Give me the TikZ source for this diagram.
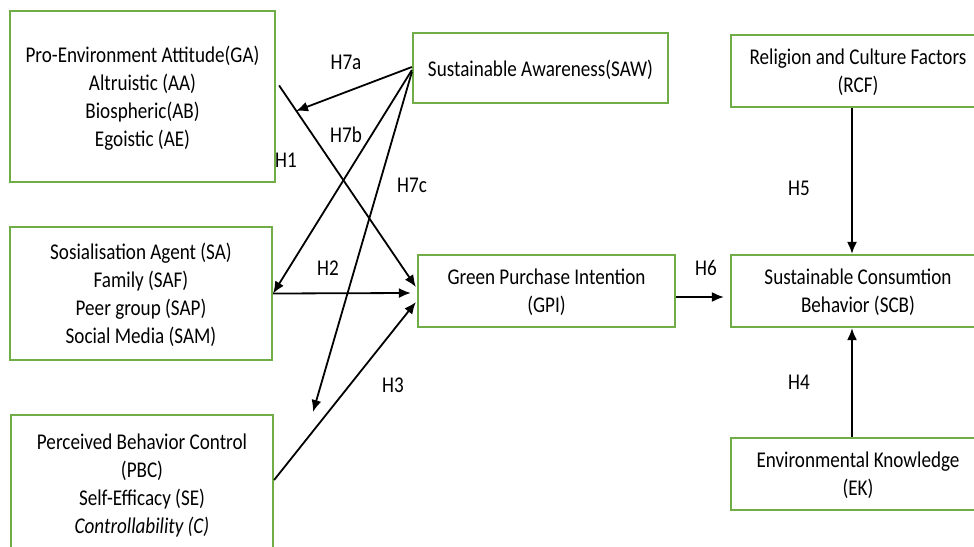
\documentclass[tikz,border=0pt]{standalone}
\usepackage{fontspec}
\setmainfont{Carlito}[FakeStretch=0.85]
\usetikzlibrary{arrows.meta}

\definecolor{boxgreen}{RGB}{112,173,71}

\tikzset{
  factor/.style={draw=boxgreen, line width=2.2pt, inner sep=0pt, align=center,
    font=\fontsize{22.5}{28}\selectfont, text depth=0pt},
  link/.style={-{Latex[length=12pt,width=10pt]}, line width=1.8pt},
  hyp/.style={font=\fontsize{22.5}{28}\selectfont, inner sep=0pt}
}

\begin{document}
\begin{tikzpicture}[x=1pt,y=-1pt]
  \useasboundingbox (0,0) rectangle (974,546);
  \node[factor, minimum width=265pt, minimum height=171pt] (GA) at (142.5,96.5)
    {Pro-Environment Attitude(GA)\\Altruistic (AA)\\Biospheric(AB)\\Egoistic (AE)};
  \node[factor, minimum width=262pt, minimum height=133pt] (SA) at (141,293.5)
    {Sosialisation Agent (SA)\\Family (SAF)\\Peer group (SAP)\\Social Media (SAM)};
  \node[factor, minimum width=262pt, minimum height=138pt] (PBC) at (142,484)
    {Perceived Behavior Control\\(PBC)\\Self-Efficacy (SE)\\\itshape Controllability (C)};
  \node[factor, minimum width=255pt, minimum height=70pt] (SAW) at (540.5,68)
    {Sustainable Awareness(SAW)};
  \node[factor, minimum width=257pt, minimum height=72pt] (GPI) at (546.5,291)
    {Green Purchase Intention\\(GPI)};
  \node[factor, minimum width=254pt, minimum height=72pt] (RCF) at (858,71)
    {Religion and Culture Factors\\(RCF)};
  \node[factor, minimum width=254pt, minimum height=72pt] (SCB) at (858,291)
    {Sustainable Consumtion\\Behavior (SCB)};
  \node[factor, minimum width=254pt, minimum height=72pt] (EK) at (858,474)
    {Environmental Knowledge\\(EK)};

  \coordinate (h7a) at (296,111);
  \coordinate (h7c) at (313,412);

  \draw[link] ([yshift=1pt]SAW.west) -- (h7a);
  \draw[link] ([yshift=-2pt]SAW.west) -- (SA.east);
  \draw[link] ([yshift=-4pt]SAW.west) -- (h7c);
  \draw[link] ([xshift=3pt,yshift=11pt]GA.east) -- ([xshift=-1pt,yshift=4pt]GPI.west);
  \draw[link] (SA.east) -- ([xshift=-6pt,yshift=-2pt]GPI.west);
  \draw[link] ([yshift=4pt]PBC.east) -- ([xshift=-1pt,yshift=-11pt]GPI.west);
  \draw[link] ([yshift=-6pt]GPI.east) -- ([xshift=-6pt,yshift=-6pt]SCB.west);
  \draw[link] ([xshift=-6pt]RCF.south) -- ([xshift=-6pt]SCB.north);
  \draw[link] ([xshift=-6pt]EK.north) -- ([xshift=-6pt]SCB.south);

  \node[hyp] (lH7a) at (346,62) {H7a};
  \node[hyp] (lH7b) at (346,135) {H7b};
  \node[hyp] (lH1) at (286,160) {H1};
  \node[hyp] (lH7c) at (412,185) {H7c};
  \node[hyp] (lH2) at (328,268) {H2};
  \node[hyp] (lH3) at (393,385) {H3};
  \node[hyp] (lH6) at (706,268) {H6};
  \node[hyp] (lH5) at (799,188) {H5};
  \node[hyp] (lH4) at (799,382) {H4};
\end{tikzpicture}
\end{document}
